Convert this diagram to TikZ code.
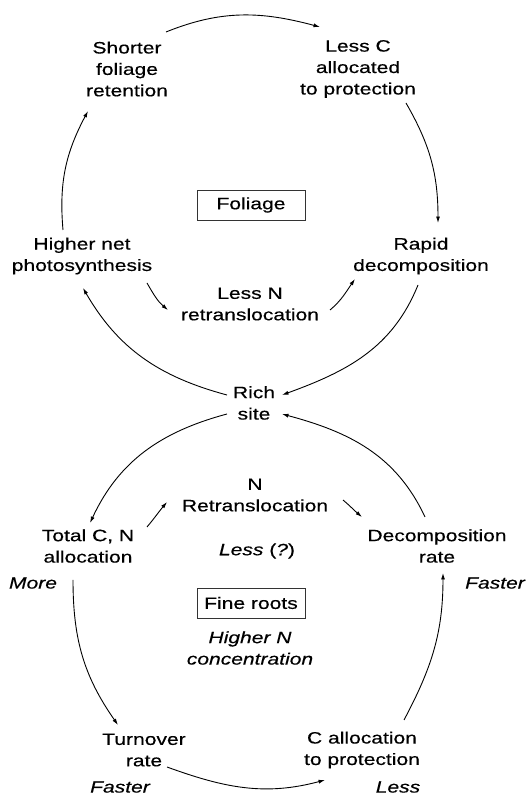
\documentclass[tikz,border=0pt]{standalone}
\usepackage{fontspec}
\setmainfont{Liberation Sans}[FakeStretch=1.28, FakeBold=0.4]
\usepackage{tikz}
\usetikzlibrary{calc}
\usetikzlibrary{arrows.meta}
\tikzset{
	label text/.style={
		align=center, inner sep=0pt, font=\fontsize{16.5}{21.5}\selectfont
	},
	note text/.style={
		label text, font=\fontsize{16.5}{21.5}\selectfont\itshape
	},
	title box/.style={
		label text, draw=black!80, line width=0.7pt, minimum width=108bp, minimum height=30bp
	},
	cycle arrow/.style={
		-{Latex[length=6.5pt,width=4pt]}, line width=0.9pt
	}
}

\begin{document}
\begin{tikzpicture}[x=1bp, y=1bp]
    \useasboundingbox (0,0) rectangle (529,796);

    \node[label text] (Shorter)  at (127,727) {Shorter\\foliage\\retention};
    \node[label text] (LessC)    at (358,727) {Less C\\allocated\\to protection};
    \node[title box]  (Foliage)  at (251,591) {Foliage};
    \node[label text] (Higher)   at (82,540)  {Higher net\\photosynthesis};
    \node[label text] (Rapid)    at (421,540) {Rapid\\decomposition};
    \node[label text] (LessN)    at (250,492) {Less N\\retranslocation};
    \node[label text] (Rich)     at (254,393) {Rich\\site};
    \node[label text] (NRetrans) at (255,301) {N\\Retranslocation};
    \node[label text] (Total)    at (88,250)  {Total C, N\\allocation};
    \node[label text] (LessQ)    at (257,245) {\textit{Less} (\textit{?})};
    \node[label text] (Decomp)   at (437,250) {Decomposition\\rate};
    \node[note text]  (More)     at (33,213)  {More};
    \node[note text]  (FasterR)  at (495,213) {Faster};
    \node[title box]  (FineRoots) at (251,193) {Fine roots};
    \node[note text]  (HigherN)  at (250,148) {Higher N\\concentration};
    \node[label text] (Turnover) at (144,46)  {Turnover\\rate};
    \node[label text] (CAlloc)   at (362,46)  {C allocation\\to protection};
    \node[note text]  (FasterB)  at (120,9)   {Faster};
    \node[note text]  (LessB)    at (398,9)   {Less};

    \draw [cycle arrow] ($(Shorter)+(39,37)$) to[out=22, in=165] ($(LessC)+(-38,42)$);
    \draw [cycle arrow] ($(LessC)+(48,-34)$) to[out=-60, in=90] ($(Rapid)+(17,33)$);
    \draw [cycle arrow] ($(Higher)+(-19,26)$) to[out=95, in=-118] ($(Shorter)+(-39,-42)$);
    \draw [cycle arrow] ($(Higher)+(65,-27)$) to[out=-60, in=140] ($(LessN)+(-82,-6)$);
    \draw [cycle arrow] ($(LessN)+(80,-6)$) to[out=40, in=-125] ($(Rapid)+(-66,-23)$);
    \draw [cycle arrow] ($(Rapid)+(-3,-29)$) to[out=-112, in=20] ($(Rich)+(28,8)$);
    \draw [cycle arrow] ($(Rich)+(-27,8)$) to[out=165, in=-60] ($(Higher)+(1,-32)$);
    \draw [cycle arrow] ($(Rich)+(-27,-11)$) to[out=195, in=65] ($(Total)+(2,23)$);
    \draw [cycle arrow] ($(Decomp)+(-12,29)$) to[out=115, in=-15] ($(Rich)+(28,-11)$);
    \draw [cycle arrow] ($(Total)+(59,19)$) to[out=50, in=-130] ($(NRetrans)+(-88,-7)$);
    \draw [cycle arrow] ($(NRetrans)+(88,-5)$) to[out=-40, in=140] ($(Decomp)+(-75,29)$);
    \draw [cycle arrow] ($(Total)+(-15,-34)$) to[out=-90, in=125] ($(Turnover)+(-26,25)$);
    \draw [cycle arrow] ($(Turnover)+(23,-17)$) to[out=-20, in=-165] ($(CAlloc)+(-37,-30)$);
    \draw [cycle arrow] ($(CAlloc)+(42,30)$) to[out=62, in=-90] ($(Decomp)+(6,-27)$);
\end{tikzpicture}
\end{document}
